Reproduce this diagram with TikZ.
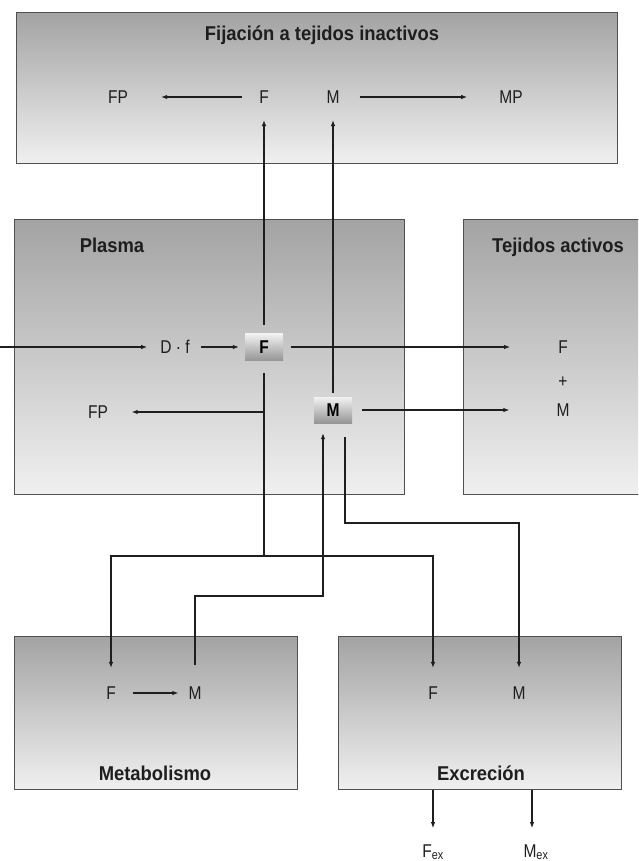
\documentclass[tikz,border=0pt]{standalone}
\usepackage{fontspec}
\setmainfont{Liberation Sans}
\newfontfamily\labfont{Liberation Sans}[FakeStretch=0.84]
\newfontfamily\ttlfont{Liberation Sans}[FakeStretch=0.92]
\usetikzlibrary{arrows.meta,calc}
\definecolor{edge}{HTML}{505050}
\definecolor{ink}{HTML}{1E1E1E}
\definecolor{gtop}{HTML}{A3A3A3}
\definecolor{gbot}{HTML}{F0F0F0}
\definecolor{ctop}{HTML}{F2F2F2}
\definecolor{cbot}{HTML}{959595}
\begin{document}
\begin{tikzpicture}[x=1pt,y=-1pt,
  panel/.style={draw=edge, line width=1pt, top color=gtop, bottom color=gbot, inner sep=0pt, anchor=north west},
  ttl/.style={font=\ttlfont\bfseries\fontsize{20}{22}\selectfont, text=ink, inner sep=0pt},
  lab/.style={font=\labfont\fontsize{18.5}{20}\selectfont, text=ink, inner sep=2pt},
  chip/.style={top color=ctop, bottom color=cbot, minimum width=38pt, minimum height=27pt, inner sep=0pt, font=\labfont\bfseries\fontsize{18.5}{20}\selectfont, text=black},
  con/.style={draw=ink, line width=1.1pt},
  arr/.style={con, -{Latex[length=6pt,width=4.5pt]}}]
\useasboundingbox (0,0) rectangle (638,861);

% Fijacion a tejidos inactivos
\node[panel, minimum width=601pt, minimum height=151pt] (fij) at (16,12) {};
\node[ttl] (fijt) at (322,35) {Fijación a tejidos inactivos};
\node[lab] (FPt) at (118,97) {FP};
\node[lab] (Ft) at (264,97) {F};
\node[lab] (Mt) at (333,97) {M};
\node[lab] (MPt) at (511,97) {MP};

% Plasma
\node[panel, minimum width=390pt, minimum height=275pt] (pla) at (14,219) {};
\node[ttl] (plat) at (112,245) {Plasma};

% Tejidos activos
\begin{scope}
\clip (0,0) rectangle (638,861);
\node[panel, minimum width=200pt, minimum height=275pt] (tej) at (463,219) {};
\end{scope}
\node[ttl] (tejt) at (558,247) {Tejidos activos};

\coordinate (in) at (0,347);
\node[lab] (Df) at (175,347) {D · f};
\node[chip] (Fb) at (264,347) {F};
\node[lab] (Ftj) at (563,347) {F};
\node[lab] (plus) at (563,382) {+};
\node[lab] (Mtj) at (563,410) {M};
\node[chip, minimum height=26pt] (Mb) at (333,410) {M};
\node[lab] (FPp) at (98,412) {FP};

% Metabolismo
\node[panel, minimum width=283pt, minimum height=153pt] (met) at (14,636) {};
\node[ttl] (mett) at (155,773) {Metabolismo};
\node[lab] (Fm) at (111,693) {F};
\node[lab] (Mm) at (195,693) {M};

% Excrecion
\node[panel, minimum width=283pt, minimum height=153pt] (exc) at (338,636) {};
\node[ttl] (exct) at (481,773) {Excreción};
\node[lab] (Fe) at (433,693) {F};
\node[lab] (Me) at (519,693) {M};
\node[lab, anchor=base] (Fex) at (433,857) {F\textsubscript{ex}};
\node[lab, anchor=base] (Mex) at (536,857) {M\textsubscript{ex}};

% connectors
\draw[arr, shorten <=15pt, shorten >=31pt] (Ft) -- (FPt);
\draw[arr, shorten <=18pt, shorten >=30pt] (Mt) -- (MPt);
\draw[arr, shorten >=11pt] (in) -- (Df);
\draw[arr, shorten <=9pt, shorten >=6pt] (Df) -- (Fb);
\draw[arr, shorten <=8pt, shorten >=46pt] (Fb) -- (Ftj);
\draw[arr, shorten <=10pt, shorten >=45pt] (Mb) -- (Mtj);
\draw[arr, shorten <=8.5pt, shorten >=14.5pt] (Fb) -- (Ft);
\draw[arr, shorten <=4pt, shorten >=14.5pt] (Mb) -- (Mt);

\coordinate (yj) at (0,556);
\draw[con, shorten <=12.5pt] (Fb.south) -- (Fb.south |- yj) coordinate (fj);
\draw[arr, shorten >=16.5pt] (fj) -| (Fm);
\draw[arr, shorten >=16.5pt] (fj) -| (Fe);
\draw[arr, shorten >=21.5pt] (Fb.south |- FPp) -- (FPp);

\coordinate (ym) at (0,596);
\draw[arr, shorten <=19.5pt, shorten >=10pt] (Mm) |- ([xshift=-10pt]Mb.south |- ym) -- ([xshift=-10pt]Mb.south);
\coordinate (yr) at (0,523);
\draw[arr, shorten <=14pt, shorten >=16.5pt] ([xshift=12pt]Mb.south) |- (Me |- yr) -- (Me);
\draw[arr, shorten <=15.5pt, shorten >=8pt] (Fm) -- (Mm);

\draw[arr, shorten >=14pt] (Fex.north |- exc.south) -- (Fex.north);
\draw[arr, shorten >=14pt] ([xshift=-4pt]Mex.north |- exc.south) -- ([xshift=-4pt]Mex.north);
\end{tikzpicture}
\end{document}
